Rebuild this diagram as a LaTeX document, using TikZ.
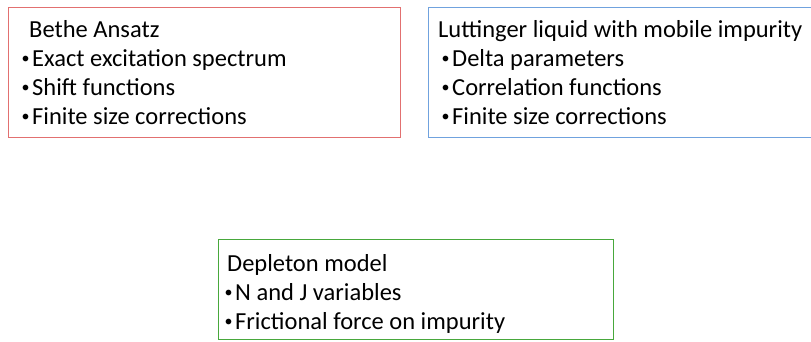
\documentclass[tikz,border=0pt]{standalone}
\usepackage{fontspec}
\setmainfont{Carlito}
\usetikzlibrary{calc}
\definecolor{boxred}{RGB}{226,112,112}
\definecolor{boxblue}{RGB}{112,162,222}
\definecolor{boxgreen}{RGB}{72,168,60}
\newcommand{\itm}{\makebox[12pt][l]{\hspace{1.5pt}\raisebox{3pt}{\fontsize{16}{16}\selectfont\textbullet}}}
\begin{document}
\begin{tikzpicture}[x=1pt,y=1pt,
    box/.style={draw,line width=1.1pt,anchor=north west,inner sep=0pt},
    listtext/.style={anchor=north west,inner sep=0pt,align=left,
        font=\fontsize{24.5}{29}\selectfont}]
    \useasboundingbox (0,0) rectangle (811,-341);
    % Bethe Ansatz
    \node[box,draw=boxred,minimum width=392pt,minimum height=130.5pt] (bethe) at (8,-6.5) {};
    \node[listtext] (bethetext) at ($(bethe.north west)+(12,-10.2)$)
        {\strut\hspace*{9pt}Bethe Ansatz\\
         \itm Exact excitation spectrum\\
         \itm Shift functions\\
         \itm Finite size corrections};
    % Luttinger liquid
    \node[box,draw=boxblue,minimum width=420pt,minimum height=130pt] (luttinger) at (428,-7) {};
    \node[listtext] (luttingertext) at ($(luttinger.north west)+(12,-9.7)$)
        {\strut\hspace*{-2pt}Luttinger liquid with mobile impurity\\
         \itm Delta parameters\\
         \itm Correlation functions\\
         \itm Finite size corrections};
    % Depleton
    \node[box,draw=boxgreen,minimum width=395pt,minimum height=100pt] (depleton) at (218,-239) {};
    \node[listtext] (depletontext) at ($(depleton.north west)+(5,-11.7)$)
        {\strut\hspace*{4pt}Depleton model\\
         \itm N and J variables\\
         \itm Frictional force on impurity};
\end{tikzpicture}
\end{document}
